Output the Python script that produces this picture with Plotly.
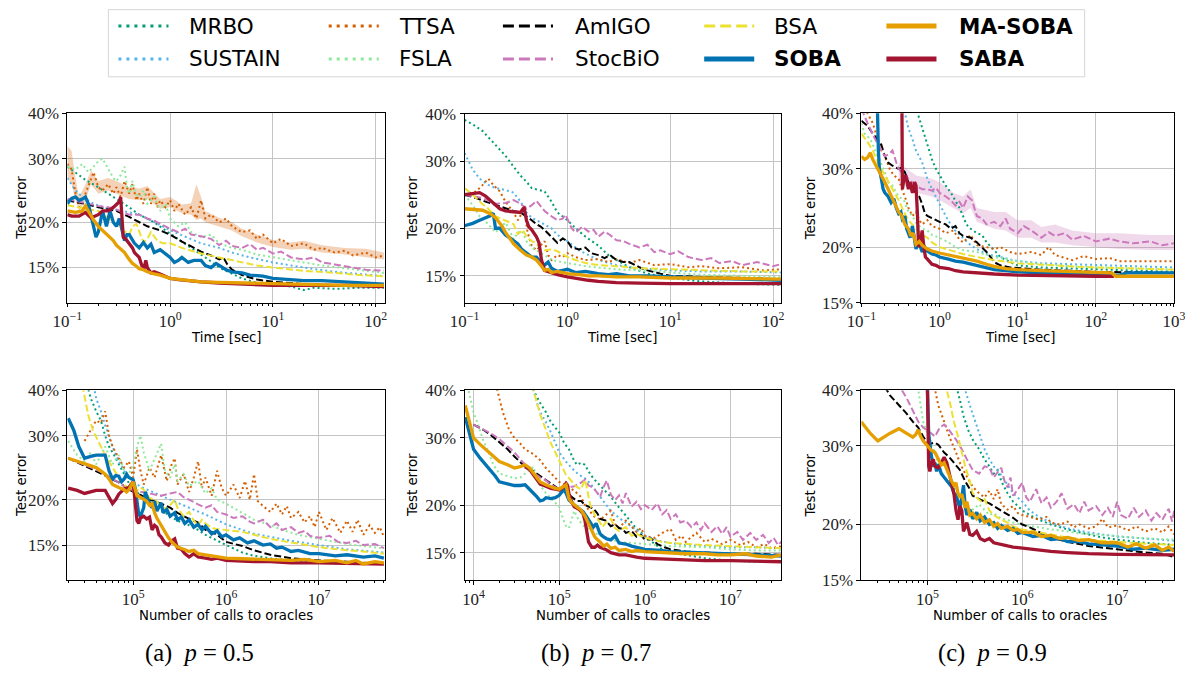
import math
import plotly.graph_objects as go

W, H = 1185, 673

# Placement is written in final-image pixels; the page is shown slightly reduced
# (body margin plus fit-to-window), so positions are mapped back to figure pixels.
FIT = 0.9768
PAD_X = 5.9
BODY = 8

METHODS = ["MRBO", "SUSTAIN", "TTSA", "FSLA", "AmIGO", "StocBiO", "BSA", "SOBA", "SABA", "MA-SOBA"]

# ---------------- p = 0.5, test error vs time [sec] (values in %) ----------------
a_time_mrbo = [[0.1,28.5],[0.12,27.5],[0.15,26.2],[0.2,25],[0.25,24],[0.3,23.2],[0.4,22],[0.5,21],[0.7,20],[0.9,19],[1.2,18],[1.6,17],[2,16.3],[2.5,15.6],[3,15],[4,14.4],[5,14],[7,13.6],[10,13.4],[15,13.3],[20,13.0],[25,13.2],[40,13.1],[70,13.2],[120,13.2]]
a_time_sustain = [[0.1,26.5],[0.12,24.5],[0.14,23.5],[0.18,22.5],[0.25,21.8],[0.35,21.5],[0.5,21],[0.7,20],[0.9,19.3],[1.2,18.6],[1.6,18],[2,17.5],[3,17],[4,16.5],[6,16],[10,15.5],[20,15],[40,14.6],[70,14.4],[120,14.2]]
a_time_ttsa = [[0.1,29],[0.11,28],[0.12,24],[0.13,22],[0.15,24],[0.17,26.5],[0.18,27.5],[0.2,25],[0.22,24.5],[0.25,25.5],[0.28,24],[0.3,25],[0.33,23.5],[0.36,26],[0.4,24],[0.43,25.5],[0.47,23],[0.5,24],[0.55,22.5],[0.6,25],[0.65,22.5],[0.7,24],[0.75,22],[0.8,23],[0.9,22],[1,23],[1.1,21.5],[1.2,22.5],[1.4,21],[1.6,22],[1.8,20.5],[2,23],[2.2,20.5],[2.5,21],[3,20],[3.5,20.5],[4,19.5],[5,18.8],[6,19],[7,18],[8,18.5],[10,17.5],[12,18],[15,17.2],[20,17.5],[25,16.8],[30,17],[40,16.5],[50,16.7],[60,16.2],[80,16.5],[100,16],[120,16.2]]
a_time_ttsa_band = [[0.1,26.5,32.5],[0.11,25.5,31.5],[0.12,23,26.5],[0.13,21.5,23.5],[0.15,23,25.5],[0.17,25.5,27.8],[0.2,24,26],[0.25,24.5,26.5],[0.3,24,26],[0.4,23.2,25],[0.5,23,24.8],[0.6,23.2,25.2],[0.8,21.8,23.2],[1,22,23.5],[1.3,21.2,22.4],[1.6,21,22.6],[1.8,20.3,25.5],[2,20.5,23.5],[2.2,20,21.5],[3,19.5,20.6],[4,19,20],[5,18.3,19.2],[7,17.6,18.5],[10,17.1,17.9],[15,16.8,17.6],[20,16.9,17.8],[30,16.5,17.3],[50,16.3,17],[80,16,16.9],[120,15.8,16.5]]
a_time_fsla = [[0.1,28.5],[0.12,28],[0.14,29],[0.16,27.5],[0.18,28.5],[0.2,29.5],[0.22,30],[0.25,28],[0.28,26.5],[0.3,26],[0.33,27],[0.36,28.5],[0.38,25],[0.4,24],[0.43,26],[0.46,24],[0.5,23.5],[0.55,24.5],[0.6,22.5],[0.7,23.5],[0.8,21.5],[0.9,22.5],[1,20.5],[1.2,19.5],[1.4,20],[1.6,18.8],[2,18.2],[2.5,18.5],[3,17.5],[4,17],[5,16.8],[7,16.3],[10,16],[15,15.7],[20,15.5],[30,15.2],[50,14.9],[80,14.7],[120,14.5]]
a_time_amigo = [[0.1,23],[0.15,22.5],[0.2,22],[0.3,21.5],[0.4,20.7],[0.5,20],[0.6,19.5],[0.8,19],[1,18.5],[1.3,17.7],[1.6,17.2],[2,16.6],[2.5,16.2],[3,15.8],[3.3,16],[3.6,15.3],[4,14.8],[5,14.3],[7,13.9],[10,13.7],[20,13.5],[50,13.4],[120,13.3]]
a_time_stocbio = [[0.1,23.2],[0.13,22.8],[0.16,22.5],[0.2,22.2],[0.25,22],[0.3,21.7],[0.35,21.3],[0.4,21],[0.5,21],[0.6,20.5],[0.7,20.2],[0.8,19.8],[1,19.2],[1.2,18.8],[1.4,19.2],[1.6,18.5],[2,18.3],[2.5,18],[3,17.3],[3.5,17.8],[4,17.2],[5,17],[6,17.4],[7,16.8],[8,17],[10,16.4],[12,16.6],[15,16],[20,15.8],[25,16],[30,15.5],[40,15.3],[60,15],[80,14.8],[120,14.7]]
a_time_bsa = [[0.1,22.3],[0.13,22],[0.16,21.8],[0.2,21.5],[0.25,20.5],[0.3,19.8],[0.35,19],[0.4,18.5],[0.43,19.5],[0.47,19.8],[0.55,17.6],[0.6,18],[0.65,18.8],[0.75,17.8],[0.85,17.5],[1,17.5],[1.3,17],[1.6,16.7],[2,16.4],[3,16],[4,15.7],[5,15.5],[7,15.2],[10,15],[20,14.7],[40,14.5],[70,14.3],[120,14.2]]
a_time_soba = [[0.1,22.5],[0.11,23.3],[0.12,23.5],[0.13,23],[0.14,23.2],[0.15,23.5],[0.16,22.5],[0.17,21],[0.18,19.5],[0.19,18.2],[0.2,18.8],[0.21,20],[0.22,21.5],[0.23,20.5],[0.24,19.5],[0.25,20.5],[0.26,21.5],[0.28,20],[0.3,19.5],[0.32,20.5],[0.34,19],[0.36,17.8],[0.38,18.5],[0.4,18.5],[0.45,17.5],[0.5,17],[0.55,17.6],[0.6,17],[0.65,17.4],[0.7,16.5],[0.8,16.8],[0.9,16.4],[1,16],[1.1,15.5],[1.2,15.7],[1.3,16],[1.5,15.5],[1.7,15.7],[2,15.7],[2.2,15.2],[2.5,15],[2.8,15.4],[3,15.2],[3.5,14.8],[4,14.6],[5,14.5],[6,14.3],[8,14.2],[10,14],[15,13.9],[20,13.8],[30,13.8],[50,13.7],[80,13.6],[120,13.5]]
a_time_saba = [[0.1,21],[0.11,20.8],[0.13,20.8],[0.15,21.3],[0.17,20.6],[0.2,21],[0.22,21.5],[0.25,21.5],[0.28,22],[0.3,22.4],[0.32,22.8],[0.33,23.5],[0.34,21],[0.35,18.2],[0.37,18],[0.4,17.5],[0.43,17],[0.45,16.5],[0.5,16],[0.53,15.2],[0.56,15],[0.58,15.7],[0.6,15],[0.65,14.5],[0.7,14.6],[0.8,14.4],[0.9,14.2],[1,14],[1.2,13.9],[1.5,13.8],[2,13.7],[3,13.6],[5,13.5],[10,13.4],[20,13.4],[50,13.4],[120,13.3]]
a_time_masoba = [[0.1,21.5],[0.12,21.3],[0.14,21.5],[0.15,22.2],[0.16,21.5],[0.18,20.3],[0.2,19.5],[0.22,19],[0.25,18.3],[0.28,17.8],[0.3,17.3],[0.33,16.9],[0.36,16.5],[0.4,15.8],[0.43,15.4],[0.46,15.2],[0.5,14.9],[0.55,14.8],[0.6,14.6],[0.7,14.4],[0.8,14.3],[1,14],[1.3,13.9],[1.7,13.8],[2,13.7],[3,13.65],[5,13.6],[10,13.5],[20,13.5],[50,13.4],[120,13.4]]

# ---------------- p = 0.7, test error vs time [sec] ----------------
b_time_mrbo = [[0.1,38.5],[0.12,37.5],[0.15,36],[0.2,33],[0.25,31],[0.3,29],[0.35,27.5],[0.4,26.5],[0.45,25.5],[0.5,25.3],[0.6,25],[0.7,23.5],[0.8,22],[1,21],[1.2,20],[1.5,19],[2,18],[2.5,17],[3,16.5],[4,15.8],[6,15.2],[10,14.8],[20,14.5],[50,14.3],[120,14.2]]
b_time_sustain = [[0.1,31.5],[0.11,30],[0.12,28.5],[0.14,27],[0.17,26],[0.2,25.5],[0.25,25.2],[0.3,24.8],[0.35,23.5],[0.4,22],[0.45,21.3],[0.5,21],[0.6,20.5],[0.7,20],[0.8,19.2],[1,18.5],[1.3,17.5],[1.6,17],[2,16.5],[3,16],[5,15.7],[10,15.5],[20,15.4],[50,15.4],[120,15.3]]
b_time_ttsa = [[0.1,24.5],[0.13,25],[0.15,26],[0.17,27],[0.19,26],[0.22,25],[0.25,23.5],[0.3,22],[0.33,21],[0.36,22],[0.38,22.5],[0.41,19.5],[0.45,18],[0.5,17.5],[0.55,18],[0.6,18.5],[0.65,17],[0.7,16.5],[0.8,17],[0.9,16.8],[1,17.2],[1.2,16.8],[1.5,16.5],[2,16.6],[2.5,16.3],[3,16.6],[4,16.2],[5,16.5],[7,16],[10,16.1],[15,15.8],[20,15.9],[30,15.7],[50,15.8],[80,15.5],[120,15.6]]
b_time_fsla = [[0.1,24.5],[0.12,23],[0.14,21.5],[0.17,20.5],[0.2,19.5],[0.22,20],[0.25,20.7],[0.28,19.5],[0.3,18.7],[0.33,19.5],[0.36,19.7],[0.4,18.5],[0.45,17.8],[0.5,17.5],[0.6,17],[0.7,16.5],[0.85,16.3],[1,16.2],[1.5,15.9],[2,15.8],[3,15.6],[5,15.5],[10,15.3],[20,15.1],[50,15],[120,14.9]]
b_time_amigo = [[0.1,24.5],[0.13,24],[0.16,23.5],[0.2,23],[0.25,22.5],[0.3,22.2],[0.35,22],[0.4,21.5],[0.45,21],[0.5,20.5],[0.55,20.2],[0.6,19.8],[0.7,19],[0.8,18.3],[0.9,18.8],[1,18.5],[1.1,17.8],[1.3,17.6],[1.5,17.8],[1.7,17.2],[2,17],[2.3,16.7],[2.6,17],[3,16.5],[3.5,16.3],[4,16.3],[5,15.8],[6,15.5],[8,15.2],[10,15],[20,14.9],[50,14.8],[120,14.7]]
b_time_stocbio = [[0.1,24.5],[0.15,24],[0.2,23.2],[0.25,23.3],[0.3,23.7],[0.35,23.2],[0.4,22.5],[0.45,23],[0.5,23.6],[0.55,22.8],[0.6,22.2],[0.7,21.5],[0.8,21],[0.9,21.2],[0.95,21.7],[1,21.2],[1.1,20],[1.2,19.5],[1.4,20.2],[1.6,19.6],[1.8,19.8],[2,19],[2.3,19.6],[2.6,19.2],[3,18.6],[3.5,18.5],[4,18.2],[5,17.8],[6,18.1],[7,17.3],[8,17.5],[10,17.1],[12,17.4],[15,16.8],[20,16.5],[25,16.7],[30,16.2],[40,16.4],[50,16],[70,16.3],[100,15.9],[120,16.1]]
b_time_bsa = [[0.1,25.5],[0.12,24.5],[0.14,23.5],[0.17,22.5],[0.2,21.5],[0.25,21],[0.3,20.5],[0.33,19.3],[0.37,19.8],[0.4,19],[0.45,18.5],[0.5,18.3],[0.55,17.6],[0.6,17.5],[0.7,17.6],[0.8,17.4],[1,16.8],[1.2,16.5],[1.5,16.2],[2,16],[3,15.9],[5,15.7],[10,15.6],[20,15.5],[50,15.4],[120,15.4]]
b_time_soba = [[0.1,20.3],[0.12,20.6],[0.14,21],[0.16,21.3],[0.18,21.6],[0.19,21.9],[0.2,20],[0.22,20],[0.25,19.2],[0.28,18.8],[0.3,18.5],[0.33,18.2],[0.36,17.6],[0.4,17.2],[0.45,16.8],[0.5,16.8],[0.55,16.3],[0.6,16],[0.65,16.3],[0.7,15.7],[0.8,15.4],[0.9,15.5],[1,15.6],[1.2,15.3],[1.5,15.4],[2,15.2],[2.5,15.1],[3,15.2],[4,15],[6,15],[10,14.9],[20,14.8],[50,14.7],[120,14.6]]
b_time_saba = [[0.1,24.5],[0.12,24.6],[0.14,24.8],[0.16,24.3],[0.18,23.6],[0.2,23],[0.22,22.5],[0.25,22.2],[0.3,22.1],[0.35,22],[0.37,22.5],[0.38,22.6],[0.4,21],[0.42,20.2],[0.45,19.8],[0.5,19],[0.53,18.3],[0.56,16.5],[0.6,15.5],[0.7,15.3],[0.8,15.1],[1,14.9],[1.3,14.7],[1.6,14.6],[2,14.5],[3,14.4],[5,14.35],[10,14.3],[30,14.3],[120,14.3]]
b_time_masoba = [[0.1,22.5],[0.12,22.4],[0.15,22.3],[0.18,21.8],[0.2,21.3],[0.23,20.3],[0.25,19.5],[0.28,18.7],[0.3,18.2],[0.35,17.5],[0.4,17],[0.45,16.8],[0.5,16.5],[0.55,16],[0.6,15.5],[0.65,15.6],[0.7,15.3],[0.8,15.4],[1,15.2],[1.3,15.1],[1.6,15],[2,15],[3,14.9],[5,14.9],[10,14.8],[30,14.8],[70,14.7],[120,14.7]]

# ---------------- p = 0.9, test error vs time [sec] ----------------
c_time_mrbo = [[0.45,46],[0.5,41],[0.55,39],[0.6,37],[0.7,34],[0.8,31.5],[0.9,30],[1,29],[1.2,27.5],[1.4,26.5],[1.6,25.5],[1.8,24.5],[2,23.5],[2.2,22.5],[2.5,22],[3,21.5],[3.5,21.3],[4,20.5],[5,19.7],[6,19],[8,18.5],[10,18.2],[20,18],[50,17.9],[100,17.8],[300,17.7],[1000,17.6]]
c_time_sustain = [[0.3,46],[0.35,41],[0.4,37],[0.45,35],[0.5,33],[0.6,31],[0.7,28.5],[0.8,27],[1,25],[1.2,23.5],[1.5,22],[2,21],[2.5,20.2],[3,19.8],[4,19.3],[6,19],[10,18.6],[20,18.4],[50,18.3],[100,18.2],[300,18.1],[1000,18]]
c_time_ttsa = [[0.1,42],[0.12,40],[0.14,38],[0.16,35],[0.18,33],[0.2,32],[0.23,30],[0.26,29],[0.3,28.5],[0.33,27],[0.36,26],[0.4,24.5],[0.45,23.5],[0.5,24],[0.55,23],[0.6,22.5],[0.7,23],[0.8,22.3],[1,22],[1.2,21.5],[1.5,21.8],[1.8,20.8],[2,20.5],[2.5,21.3],[3,20.2],[4,20],[5,19.8],[6,20],[8,19.5],[10,19.3],[15,19.5],[20,19.2],[25,20],[30,19.2],[40,18.9],[50,18.7],[70,19.1],[100,18.8],[150,18.9],[200,18.6],[300,18.6],[500,18.6],[1000,18.6]]
c_time_fsla = [[0.1,38],[0.11,36],[0.13,35],[0.15,33],[0.17,31.5],[0.2,29.5],[0.22,28],[0.25,27.5],[0.3,26],[0.35,25.5],[0.4,24],[0.45,23.5],[0.5,22.7],[0.6,22],[0.7,21.8],[0.8,21.3],[1,21],[1.3,20.5],[1.6,20],[2,19.7],[3,19.5],[5,19],[10,18.6],[20,18.3],[50,18.1],[100,18],[300,17.9],[1000,17.8]]
c_time_amigo = [[0.1,38.5],[0.12,37.5],[0.14,36],[0.16,35],[0.18,34],[0.2,32],[0.22,31],[0.25,30.5],[0.3,30],[0.33,30.2],[0.36,29.5],[0.4,28],[0.45,27],[0.5,26.5],[0.55,26],[0.6,25],[0.65,23.8],[0.7,23.5],[0.8,23.2],[0.9,23],[1,22.8],[1.2,22.5],[1.4,22],[1.6,22.3],[1.8,21.5],[2,21.2],[2.5,21],[3,20.5],[3.5,20],[4,19.5],[4.5,19],[5,18.5],[6,18.2],[8,18],[20,17.8],[100,17.6],[1000,17.5]]
c_time_stocbio = [[0.1,41],[0.12,38],[0.15,35],[0.18,33],[0.2,32],[0.23,32.5],[0.25,33],[0.28,31],[0.3,30],[0.35,29],[0.4,28.5],[0.5,27.5],[0.6,27],[0.7,27],[0.8,26.8],[0.9,27.2],[1,26.5],[1.2,26],[1.4,25.5],[1.6,24.8],[1.8,25.3],[2,24.5],[2.3,26],[2.6,25.5],[3,23.5],[3.5,23.2],[4,22.5],[5,22.8],[6,22.3],[7,23.2],[8,22],[10,21.5],[12,22.3],[15,21.8],[20,21],[25,21.6],[30,21.2],[40,21.5],[50,20.8],[70,21.2],[100,20.6],[150,20.9],[200,20.6],[300,20.4],[500,20.6],[700,20.2],[1000,20.4]]
c_time_stocbio_band = [[0.3,28,31],[0.5,26.5,29],[0.8,26,28.5],[1,25.5,28],[1.5,24.5,26.5],[2,23.8,26],[2.5,24.5,27],[3,22.8,24.5],[5,22,24],[7,21.8,24],[10,21,23],[15,21,23],[20,20.5,22.2],[30,20.5,22.5],[50,20.2,21.8],[100,20,21.5],[200,19.8,21.5],[500,19.7,21.3],[1000,19.7,21.3]]
c_time_bsa = [[0.1,36],[0.12,34.5],[0.14,33],[0.17,30.5],[0.2,29],[0.25,27],[0.3,25.5],[0.35,24],[0.4,23],[0.5,22],[0.6,21.3],[0.7,21],[0.8,20.5],[1,20],[1.5,19.6],[2,19.3],[3,19],[5,18.7],[10,18.4],[20,18.3],[50,18.1],[100,18],[300,17.9],[1000,17.8]]
c_time_soba = [[0.15,46],[0.16,42],[0.165,33],[0.17,30],[0.18,28.5],[0.19,27],[0.2,26.5],[0.22,26],[0.24,25.2],[0.26,25.7],[0.28,24.5],[0.3,23.8],[0.32,24],[0.34,22.8],[0.36,23.5],[0.38,22],[0.4,21.5],[0.42,21],[0.45,22.3],[0.48,20.5],[0.5,19.8],[0.53,20.6],[0.56,20.2],[0.6,19.5],[0.65,20],[0.7,19.6],[0.8,19.3],[0.9,19.2],[1,19],[1.3,18.8],[1.6,18.6],[2,18.5],[3,18.2],[4,18],[5,17.8],[7,17.7],[10,17.6],[20,17.5],[50,17.4],[100,17.3],[200,17.3],[250,17.5],[500,17.5],[1000,17.5]]
c_time_saba = [[0.32,46],[0.33,42],[0.335,27],[0.35,28.5],[0.37,29],[0.4,27],[0.42,28],[0.45,26.5],[0.48,28],[0.5,27.5],[0.52,24],[0.54,20],[0.57,20.5],[0.6,21.8],[0.63,20],[0.66,19],[0.7,18.8],[0.75,18.5],[0.8,18.3],[0.9,18.2],[1,18],[1.3,17.9],[1.6,17.7],[2,17.6],[3,17.5],[5,17.4],[10,17.3],[20,17.25],[50,17.2],[100,17.2],[170,17.2]]
c_time_masoba = [[0.1,32],[0.11,31.5],[0.12,31.8],[0.13,32.6],[0.14,31.5],[0.16,30],[0.18,29],[0.2,28],[0.23,26.5],[0.26,25.2],[0.3,24],[0.33,23.5],[0.36,22.5],[0.4,22],[0.43,21.2],[0.46,21.5],[0.5,20.3],[0.55,20.6],[0.6,20.2],[0.7,19.8],[0.8,19.6],[1,19.4],[1.3,19.2],[1.6,19],[2,18.9],[3,18.6],[4,18.3],[5,18.1],[7,17.9],[10,17.8],[20,17.7],[50,17.6],[100,17.5],[160,17.5],[180,17.2],[300,17.2],[1000,17.2]]

# ---------------- p = 0.5, test error vs number of oracle calls ----------------
a_calls_mrbo = [[3e4,44],[3.5e4,38],[4e4,35],[4.5e4,33],[5e4,30],[5.5e4,28],[6e4,27],[7e4,25],[8e4,23.5],[9e4,22.2],[1e5,21.5],[1.2e5,20.5],[1.5e5,19.7],[2e5,18.8],[2.5e5,18],[3e5,17.5],[4e5,17],[5e5,16.5],[6e5,16],[8e5,15.4],[1e6,15],[1.5e6,14.3],[2e6,14],[3e6,13.8],[5e6,13.6],[1e7,13.4],[2e7,13.3],[5e7,13.3]]
a_calls_sustain = [[3.5e4,45],[4e4,38],[4.5e4,35],[5e4,32],[6e4,28],[7e4,25.5],[8e4,24],[9e4,23],[1e5,22.3],[1.3e5,21.5],[1.6e5,21],[2e5,20.5],[3e5,19.6],[4e5,19],[6e5,18.2],[8e5,17.6],[1e6,17.1],[1.5e6,16.5],[2e6,16.1],[3e6,15.8],[5e6,15.4],[1e7,15],[2e7,14.6],[5e7,14.3]]
a_calls_ttsa = [[3e4,29],[3.5e4,31],[4e4,33],[4.5e4,32.5],[5e4,35],[5.5e4,30],[6e4,28],[7e4,26],[8e4,24.5],[9e4,25.5],[1e5,23],[1.1e5,27.5],[1.2e5,24],[1.3e5,22],[1.5e5,24.5],[1.7e5,23],[2e5,26.5],[2.3e5,22.5],[2.6e5,25],[2.8e5,26],[3e5,22],[3.5e5,23.5],[4e5,21],[4.5e5,23],[5e5,25.5],[5.5e5,21.5],[6e5,23],[7e5,20.5],[8e5,24],[9e5,21.5],[1e6,20.5],[1.2e6,22],[1.4e6,20.2],[1.6e6,22.5],[1.8e6,20],[2e6,23.5],[2.2e6,19.8],[2.5e6,19.2],[3e6,18.5],[3.5e6,19.5],[4e6,18.2],[4.5e6,19.2],[5e6,17.8],[6e6,18.5],[7e6,17.3],[8e6,18],[9e6,16.8],[1e7,18.5],[1.2e7,16.5],[1.4e7,17.8],[1.7e7,16.2],[2e7,17.5],[2.3e7,16.3],[2.6e7,17.6],[3e7,16],[3.5e7,17],[4e7,16.2],[4.5e7,16.8],[5e7,15.8]]
a_calls_fsla = [[2e4,29],[2.5e4,26.5],[3e4,25.5],[3.5e4,27],[4e4,25],[5e4,28],[6e4,25],[7e4,26.5],[8e4,24],[9e4,23.5],[1e5,25],[1.1e5,28],[1.2e5,30],[1.3e5,27],[1.5e5,24],[1.7e5,26],[2e5,28.5],[2.2e5,24],[2.5e5,23],[2.8e5,25],[3e5,22.5],[3.5e5,23.5],[4e5,21.8],[5e5,22.5],[6e5,20.8],[7e5,21.5],[8e5,20],[1e6,19.5],[1.3e6,18.8],[1.6e6,18.2],[2e6,17.6],[3e6,17],[4e6,16.5],[6e6,16],[1e7,15.6],[2e7,15.1],[3e7,14.9],[5e7,14.7]]
a_calls_amigo = [[2e4,26],[3e4,24.8],[4e4,24],[5e4,23.3],[6e4,22.7],[7e4,22.3],[8e4,21.8],[9e4,21.4],[1e5,21],[1.2e5,20.6],[1.5e5,20],[2e5,19.5],[2.5e5,19],[3e5,18.4],[4e5,17.7],[5e5,17.3],[6e5,16.5],[7e5,16.3],[8e5,16],[1e6,15.3],[1.5e6,14.9],[2e6,14.5],[3e6,14.1],[5e6,13.8],[1e7,13.6],[2e7,13.5],[3e7,13.4],[5e7,13.3]]
a_calls_stocbio = [[2e4,26],[3e4,25],[4e4,24.2],[5e4,23.5],[6e4,22.8],[7e4,22.3],[8e4,21.8],[1e5,21.2],[1.2e5,21],[1.5e5,20.8],[2e5,20.5],[2.5e5,20.8],[3e5,21],[3.5e5,20.3],[4e5,20],[5e5,19.4],[6e5,19],[7e5,19.3],[8e5,18.5],[1e6,18.2],[1.2e6,17.8],[1.5e6,18],[1.8e6,17.4],[2e6,17.2],[2.5e6,17.6],[3e6,16.8],[3.5e6,17.2],[4e6,16.5],[5e6,16.8],[6e6,16.2],[7e6,16.4],[8e6,15.9],[1e7,15.7],[1.3e7,15.9],[1.6e7,15.3],[2e7,15.2],[2.5e7,15.4],[3e7,15],[4e7,15.1],[5e7,14.7]]
a_calls_bsa = [[2.7e4,44],[3e4,38],[3.3e4,34],[3.7e4,31],[4.2e4,29],[5e4,26.5],[6e4,24.5],[7e4,23],[8e4,22],[9e4,21.5],[1e5,21],[1.1e5,21.2],[1.2e5,21.6],[1.3e5,21.3],[1.5e5,20.2],[1.7e5,20],[2e5,19.2],[2.3e5,18.8],[2.6e5,19.6],[2.8e5,20],[3e5,19],[3.5e5,18],[4e5,18.5],[4.5e5,17.5],[5e5,17],[5.5e5,17.6],[6e5,17.2],[7e5,16.7],[8e5,16.6],[1e6,16.5],[1.5e6,16.3],[2e6,16],[3e6,15.6],[4e6,15.4],[6e6,15.1],[1e7,14.8],[2e7,14.5],[3e7,14.4],[5e7,14.2]]
a_calls_soba = [[2e4,33.5],[2.3e4,31],[2.6e4,28],[3e4,26],[3.5e4,26.3],[4e4,26.5],[5e4,26.5],[5.5e4,24],[6e4,22.8],[6.5e4,23.3],[7e4,23.2],[7.5e4,22.4],[8e4,22.8],[8.5e4,23.5],[9e4,23],[1e5,22.7],[1.05e5,21.6],[1.1e5,19.5],[1.15e5,18.2],[1.2e5,18],[1.3e5,19],[1.35e5,21],[1.4e5,20.5],[1.5e5,19.5],[1.6e5,19],[1.7e5,19.8],[1.8e5,18.6],[2e5,19.6],[2.1e5,18.4],[2.3e5,18.8],[2.5e5,18],[2.8e5,18.4],[3e5,17.6],[3.3e5,17.9],[3.6e5,17.2],[4e5,17.6],[4.5e5,16.8],[5e5,17.1],[5.5e5,16.5],[6e5,16.9],[7e5,16.1],[8e5,16.4],[9e5,15.8],[1e6,16],[1.2e6,15.5],[1.4e6,15.7],[1.7e6,15.2],[2e6,15.4],[2.5e6,15],[3e6,15.1],[3.5e6,14.7],[4e6,14.8],[5e6,14.4],[6e6,14.5],[8e6,14.2],[1e7,14.2],[1.5e7,14],[2e7,14.1],[3e7,13.9],[4e7,14],[5e7,13.8]]
a_calls_saba = [[2e4,21.5],[2.5e4,21.2],[3e4,20.8],[3.5e4,21],[4e4,21.2],[5e4,21.2],[5.5e4,20.3],[6e4,19.5],[6.5e4,20],[7e4,20.7],[8e4,21.4],[9e4,21.6],[1e5,22.4],[1.05e5,20],[1.1e5,17.5],[1.15e5,17.2],[1.2e5,17.8],[1.3e5,18],[1.4e5,17.7],[1.5e5,17.9],[1.6e5,16.5],[1.7e5,17],[1.8e5,16.8],[1.9e5,16],[2e5,15.8],[2.2e5,15.2],[2.4e5,15],[2.6e5,15.4],[2.8e5,15.6],[3e5,14.7],[3.3e5,14.6],[3.6e5,14.2],[4e5,13.9],[4.5e5,14.2],[5e5,13.9],[6e5,13.8],[7e5,13.7],[8e5,13.8],[1e6,13.6],[1.5e6,13.55],[2e6,13.5],[3e6,13.5],[5e6,13.4],[1e7,13.4],[2e7,13.35],[5e7,13.3]]
a_calls_masoba = [[2e4,26],[2.5e4,25.5],[3e4,25],[3.5e4,24.8],[4e4,24.5],[4.5e4,24],[5e4,23.5],[5.5e4,22.8],[6e4,22],[7e4,21.6],[8e4,21.3],[8.5e4,21],[9e4,21.3],[1e5,22.4],[1.05e5,21.3],[1.1e5,20.5],[1.2e5,20.3],[1.3e5,20],[1.4e5,19.8],[1.5e5,19.3],[1.6e5,19.5],[1.7e5,18.4],[1.8e5,17.8],[2e5,17],[2.2e5,16.3],[2.4e5,15.7],[2.6e5,15.3],[2.8e5,15],[3e5,14.8],[3.5e5,14.6],[4e5,14.4],[4.5e5,14.5],[5e5,14.2],[6e5,14.1],[7e5,14],[8e5,13.9],[1e6,13.8],[1.5e6,13.75],[2e6,13.7],[3e6,13.65],[5e6,13.6],[7e6,13.7],[1e7,13.5],[1.5e7,13.6],[2e7,13.4],[2.5e7,13.6],[3e7,13.3],[4e7,13.5],[5e7,13.4]]

# ---------------- p = 0.7, test error vs number of oracle calls ----------------
b_calls_mrbo = [[4.5e4,44],[5e4,40],[6e4,37],[7e4,35],[8e4,33],[9e4,32],[1e5,31],[1.15e5,29],[1.3e5,28],[1.45e5,26.5],[1.6e5,25.5],[1.8e5,25.8],[2e5,25.5],[2.2e5,24.5],[2.5e5,23.5],[3e5,22.5],[3.5e5,21.7],[4e5,21],[5e5,19.7],[6e5,18.8],[7e5,18],[8e5,17.3],[1e6,16.6],[1.3e6,15.8],[1.6e6,15.3],[2e6,15],[3e6,14.8],[5e6,14.5],[1e7,14.3],[2e7,14.2],[4e7,14.2]]
b_calls_sustain = [[4.5e4,44],[5e4,40],[5.5e4,37],[6e4,35],[7e4,33],[8e4,31],[9e4,29],[1e5,27.5],[1.2e5,26],[1.4e5,25],[1.7e5,24],[2e5,23.5],[2.3e5,22.8],[2.6e5,22],[3e5,21],[3.5e5,20.2],[4e5,19.3],[5e5,18.5],[6e5,18],[7e5,17.5],[8e5,17.2],[1e6,16.6],[1.5e6,16.1],[2e6,15.9],[3e6,15.7],[5e6,15.6],[1e7,15.5],[2e7,15.5],[4e7,15.4]]
b_calls_ttsa = [[1.7e4,44],[1.9e4,40],[2.2e4,35],[2.6e4,31.5],[3e4,30],[3.5e4,29],[4e4,28],[5e4,27.2],[6e4,26.2],[7e4,25],[8e4,24.2],[9e4,23.5],[1e5,23],[1.2e5,22.5],[1.5e5,21.8],[1.8e5,21],[2e5,20],[2.3e5,19.2],[2.6e5,18.6],[3e5,18.3],[3.5e5,18.8],[4e5,19.3],[4.5e5,17.8],[5e5,17.4],[6e5,18.2],[7e5,17.6],[8e5,17],[9e5,17.4],[1e6,16.6],[1.3e6,16.4],[1.6e6,16.9],[2e6,17.3],[2.3e6,16.2],[2.7e6,16.6],[3e6,16],[3.5e6,16.5],[4e6,16.9],[5e6,16],[6e6,16.3],[8e6,15.8],[1e7,16.2],[1.3e7,15.7],[1.6e7,16],[2e7,15.5],[2.5e7,15.8],[3e7,15.4],[4e7,15.6]]
b_calls_fsla = [[8.5e3,41],[9e3,39],[1e4,35],[1.1e4,33],[1.2e4,31],[1.3e4,29.5],[1.5e4,27.5],[1.7e4,25.5],[2e4,24.2],[2.5e4,23.8],[3e4,23.5],[3.5e4,23.6],[4e4,24.2],[4.5e4,24.8],[5e4,25.2],[5.5e4,23.5],[6e4,22.5],[7e4,21.5],[8e4,20.8],[9e4,20.2],[1e5,19.8],[1.1e5,18.5],[1.2e5,17.6],[1.3e5,17.4],[1.4e5,18.3],[1.5e5,19.3],[1.7e5,18.2],[2e5,17.5],[2.5e5,17],[3e5,16.6],[4e5,16.3],[5e5,16],[7e5,15.9],[1e6,15.8],[2e6,15.6],[5e6,15.5],[1e7,15.3],[2e7,15.2],[4e7,15.2]]
b_calls_amigo = [[1e4,32.5],[1.3e4,31.5],[1.6e4,30.5],[2e4,29.2],[2.5e4,28],[3e4,26.8],[4e4,25.2],[5e4,24.5],[6e4,23.8],[7e4,23.2],[8e4,22.7],[9e4,22.3],[1e5,22],[1.2e5,21.6],[1.4e5,21],[1.6e5,20.5],[1.8e5,20.5],[2e5,20],[2.2e5,19.8],[2.5e5,19.6],[2.8e5,19],[3e5,18.4],[3.5e5,18.2],[4e5,17.6],[4.5e5,17.8],[5e5,17.4],[5.5e5,17.3],[6e5,16.9],[7e5,17.1],[8e5,16.5],[9e5,16.7],[1e6,16.2],[1.2e6,16.3],[1.4e6,15.8],[1.7e6,15.5],[2e6,15.3],[3e6,15.1],[5e6,15],[1e7,14.9],[2e7,14.9],[4e7,14.8]]
b_calls_stocbio = [[1e4,32.5],[1.3e4,31.5],[1.6e4,30.8],[2e4,29.8],[2.5e4,28.5],[3e4,27.5],[4e4,25.5],[5e4,24.3],[6e4,23.6],[7e4,23.2],[8e4,22.6],[9e4,22.3],[1e5,22],[1.2e5,22.2],[1.5e5,22.4],[1.8e5,22.9],[2e5,23.3],[2.2e5,22.5],[2.5e5,22.2],[2.8e5,21.5],[3e5,21],[3.3e5,22.3],[3.6e5,23.2],[4e5,21.3],[4.5e5,20.6],[5e5,21.2],[5.5e5,20.2],[6e5,21.5],[6.5e5,20.5],[7e5,19.8],[8e5,20.4],[9e5,19.5],[1e6,20],[1.2e6,19.4],[1.4e6,20.2],[1.6e6,18.9],[1.8e6,19.4],[2e6,18.4],[2.3e6,18.9],[2.6e6,18],[3e6,18.2],[3.5e6,17.5],[4e6,18],[4.5e6,17.2],[5e6,17.9],[6e6,17],[7e6,17.6],[8e6,16.8],[9e6,17.5],[1e7,16.5],[1.2e7,17],[1.4e7,16.2],[1.7e7,16.9],[2e7,16.2],[2.4e7,16.7],[2.8e7,15.9],[3.2e7,16.4],[3.6e7,15.7],[4e7,16.1]]
b_calls_bsa = [[4.8e4,44],[5e4,40],[5.5e4,37],[6e4,34.5],[7e4,31.5],[8e4,29],[9e4,27.5],[1e5,26],[1.1e5,25],[1.2e5,24],[1.4e5,23],[1.6e5,22.3],[1.8e5,22],[2e5,23.3],[2.1e5,22.2],[2.3e5,20],[2.5e5,19.2],[2.7e5,18.5],[3e5,18],[3.2e5,17.5],[3.5e5,18],[4e5,18.4],[4.5e5,17.4],[5e5,17.1],[6e5,17.5],[7e5,16.6],[8e5,16.8],[1e6,16.4],[1.3e6,16.2],[1.6e6,16],[2e6,15.9],[3e6,15.8],[5e6,15.7],[1e7,15.6],[2e7,15.5],[4e7,15.4]]
b_calls_soba = [[8e3,34],[9e3,30.5],[1e4,28],[1.2e4,26.5],[1.5e4,25],[1.8e4,23.8],[2e4,23],[2.5e4,22.7],[3e4,22.5],[3.5e4,22.5],[4e4,22.6],[4.5e4,22],[5e4,21.5],[5.5e4,21],[6e4,20.5],[6.5e4,20.6],[7e4,20.9],[8e4,20.8],[9e4,20.9],[1e5,21.2],[1.1e5,21.8],[1.15e5,22.2],[1.2e5,21.5],[1.3e5,20.6],[1.5e5,20],[1.7e5,19.6],[1.9e5,19.2],[2.1e5,18.6],[2.3e5,18],[2.5e5,17.5],[2.7e5,17.9],[3e5,16.8],[3.3e5,16.5],[3.6e5,16.3],[4e5,16.2],[4.5e5,16.6],[5e5,15.9],[6e5,15.8],[7e5,15.6],[8e5,15.5],[1e6,15.3],[1.5e6,15.2],[2e6,15.1],[3e6,15.05],[5e6,15],[1e7,14.9],[2e7,14.8],[4e7,14.7]]
b_calls_saba = [[4e4,25.2],[4.5e4,24.8],[5e4,24],[5.5e4,23.3],[6e4,22.7],[7e4,22.4],[8e4,22.1],[9e4,22],[1e5,21.9],[1.1e5,22.2],[1.2e5,22.8],[1.25e5,22.5],[1.3e5,21.4],[1.4e5,20.4],[1.5e5,19.8],[1.7e5,19.5],[1.9e5,19],[2e5,18.2],[2.1e5,17],[2.2e5,16],[2.4e5,15.5],[2.6e5,15.5],[2.8e5,15.7],[3e5,15.5],[3.5e5,15.3],[4e5,15],[5e5,14.8],[6e5,14.8],[8e5,14.6],[1e6,14.5],[1.5e6,14.45],[2e6,14.4],[3e6,14.35],[5e6,14.3],[1e7,14.3],[2e7,14.25],[4e7,14.2]]
b_calls_masoba = [[8e3,36.5],[9e3,33],[1e4,30],[1.2e4,28.8],[1.5e4,27.5],[1.8e4,26.5],[2e4,26],[2.5e4,25.5],[3e4,25],[3.5e4,25.2],[4e4,25.5],[4.5e4,25],[5e4,24.3],[5.5e4,23.6],[6e4,23],[7e4,22.6],[8e4,22.3],[9e4,22.1],[1e5,22],[1.1e5,22.3],[1.2e5,22.6],[1.3e5,20.8],[1.4e5,20.3],[1.6e5,19.8],[1.8e5,19.4],[2e5,18.7],[2.2e5,17.8],[2.4e5,17],[2.6e5,16.5],[2.8e5,16.2],[3e5,16],[3.3e5,15.6],[3.6e5,15.8],[4e5,15.4],[4.5e5,15.5],[5e5,15.2],[6e5,15.3],[7e5,15.1],[8e5,15.2],[1e6,15.1],[1.5e6,15],[2e6,15],[3e6,14.9],[5e6,14.9],[7e6,14.8],[1e7,14.8],[1.5e7,14.9],[2e7,14.7],[3e7,14.6],[4e7,14.8]]

# ---------------- p = 0.9, test error vs number of oracle calls ----------------
c_calls_mrbo = [[1.9e5,44],[2e5,41],[2.2e5,38],[2.4e5,35],[2.7e5,32.5],[3e5,31],[3.5e5,29.5],[4e5,28],[4.5e5,27],[5e5,26],[5.5e5,26.5],[6e5,25],[7e5,23.5],[8e5,22.5],[9e5,22],[1e6,21.5],[1.2e6,21],[1.5e6,20.5],[2e6,20],[3e6,19.5],[5e6,19],[7e6,18.7],[1e7,18.5],[2e7,18.2],[4e7,18]]
c_calls_sustain = [[2.3e5,44],[2.5e5,40],[2.8e5,37],[3.2e5,34],[3.6e5,31.5],[4e5,29.5],[4.5e5,28],[5e5,27],[6e5,25.8],[7e5,24.5],[8e5,23.5],[1e6,22.5],[1.2e6,21.5],[1.5e6,20.8],[2e6,20.2],[3e6,19.6],[5e6,19.2],[1e7,18.8],[2e7,18.6],[4e7,18.4]]
c_calls_ttsa = [[1.1e5,44],[1.2e5,40],[1.3e5,37],[1.5e5,34],[1.7e5,31.5],[2e5,29],[2.2e5,27.5],[2.5e5,26],[2.8e5,25],[3e5,24.3],[3.5e5,23.5],[4e5,23],[4.5e5,23.8],[5e5,22.8],[5.5e5,24],[6e5,22.2],[7e5,21.6],[8e5,22],[9e5,21.2],[1e6,21],[1.2e6,20.8],[1.5e6,20.5],[1.8e6,20.8],[2e6,20.2],[2.5e6,20],[3e6,20.3],[3.5e6,19.7],[4e6,20],[5e6,19.6],[6e6,19.8],[7e6,20.6],[8e6,19.7],[1e7,19.9],[1.3e7,19.4],[1.6e7,19.8],[2e7,19.3],[2.5e7,19.6],[3e7,19.2],[3.5e7,19.8],[4e7,19]]
c_calls_fsla = [[7.5e4,44],[8e4,40],[8.5e4,36],[9e4,34],[1e5,32],[1.1e5,30.5],[1.2e5,29],[1.3e5,27.5],[1.5e5,25.5],[1.7e5,24.5],[2e5,24],[2.2e5,23],[2.5e5,22],[2.8e5,21.5],[3e5,21.6],[3.5e5,22.2],[4e5,21.5],[4.5e5,21],[5e5,21.2],[6e5,20.6],[7e5,20.5],[8e5,20.2],[1e6,20],[1.3e6,19.8],[1.6e6,19.6],[2e6,19.5],[3e6,19.3],[4e6,19.1],[6e6,19],[1e7,18.8],[2e7,18.6],[4e7,18.5]]
c_calls_amigo = [[3e4,45],[3.5e4,41],[4e4,39],[5e4,37],[6e4,35.5],[7e4,34],[8e4,33],[9e4,31.5],[1e5,30.5],[1.1e5,30.4],[1.2e5,30.5],[1.3e5,30.2],[1.4e5,29.5],[1.5e5,29],[1.7e5,28.3],[1.9e5,27.5],[2.2e5,26.5],[2.5e5,25],[2.8e5,24],[3e5,23.2],[3.5e5,22.8],[4e5,22.5],[4.5e5,22.3],[5e5,22],[6e5,21.5],[7e5,21],[8e5,20.7],[9e5,20.3],[1e6,20],[1.2e6,19.7],[1.4e6,19.4],[1.7e6,19],[2e6,18.7],[3e6,18.3],[5e6,17.9],[1e7,17.6],[2e7,17.3],[3e7,17.2],[4e7,16.9]]
c_calls_stocbio = [[4.5e4,44],[5e4,41],[6e4,38.5],[7e4,36],[8e4,34],[9e4,33],[1e5,32.5],[1.1e5,32],[1.2e5,31.5],[1.35e5,33],[1.5e5,33.5],[1.7e5,32.5],[2e5,31],[2.3e5,29.5],[2.6e5,28],[3e5,26.5],[3.5e5,26],[4e5,27],[4.5e5,26.8],[5e5,25.5],[5.5e5,26.2],[6e5,26.8],[6.5e5,25],[7e5,24.2],[7.5e5,25.5],[8e5,23.2],[9e5,24],[1e6,24.8],[1.1e6,23],[1.2e6,22.5],[1.4e6,24],[1.6e6,22.3],[1.8e6,23],[2e6,21.8],[2.3e6,22.5],[2.6e6,23.5],[3e6,21.7],[3.5e6,22.2],[4e6,21.2],[4.5e6,22.5],[5e6,21.5],[6e6,22],[7e6,21],[8e6,21.8],[9e6,20.8],[1e7,22.5],[1.1e7,21],[1.3e7,20.6],[1.5e7,21.8],[1.7e7,20.8],[2e7,21.5],[2.3e7,20.4],[2.6e7,21.2],[3e7,20.5],[3.5e7,21.7],[3.8e7,20.3],[4e7,21.5]]
c_calls_bsa = [[1.5e5,44],[1.6e5,40],[1.75e5,37],[1.9e5,34],[2.1e5,31.5],[2.3e5,29],[2.5e5,27],[2.8e5,25],[3e5,23.5],[3.3e5,23],[3.7e5,22.5],[4e5,22.8],[4.5e5,21.5],[5e5,21],[6e5,20.5],[7e5,20.2],[8e5,19.8],[1e6,19.5],[1.5e6,19.2],[2e6,19],[3e6,18.7],[5e6,18.5],[1e7,18.3],[2e7,18.1],[4e7,18]]
c_calls_soba = [[9.5e4,45],[1e5,40],[1.03e5,32],[1.06e5,30],[1.1e5,28.5],[1.15e5,27],[1.2e5,27.5],[1.25e5,26.3],[1.3e5,27.3],[1.4e5,26],[1.5e5,25.5],[1.6e5,25],[1.7e5,24.7],[1.8e5,24.3],[1.9e5,23.5],[2e5,23.3],[2.1e5,22.5],[2.2e5,21.7],[2.3e5,23],[2.4e5,24.5],[2.5e5,22],[2.6e5,21],[2.8e5,21.6],[3e5,20.6],[3.3e5,21.3],[3.6e5,20.4],[4e5,20.8],[4.5e5,20],[5e5,20.2],[5.5e5,19.6],[6e5,19.9],[7e5,19.4],[8e5,19.6],[9e5,19.1],[1e6,19.2],[1.3e6,18.8],[1.6e6,18.9],[2e6,18.5],[2.5e6,18.6],[3e6,18.3],[4e6,18.3],[5e6,18.1],[7e6,18],[1e7,17.9],[1.5e7,17.6],[2e7,17.7],[3e7,17.5],[4e7,17.6]]
c_calls_saba = [[9.5e4,45],[1e5,40],[1.03e5,27],[1.06e5,26.3],[1.1e5,27.5],[1.15e5,28],[1.2e5,27],[1.3e5,26.8],[1.4e5,27.5],[1.5e5,28.3],[1.6e5,27.5],[1.7e5,26],[1.8e5,25],[1.9e5,23.5],[2e5,21.5],[2.1e5,20.5],[2.2e5,22],[2.3e5,21.5],[2.4e5,19.3],[2.5e5,19.8],[2.6e5,20.2],[2.8e5,19],[3e5,18.9],[3.3e5,19.3],[3.6e5,18.6],[4e5,18.4],[4.5e5,18.6],[5e5,18.2],[6e5,18],[7e5,17.9],[8e5,17.8],[1e6,17.7],[1.5e6,17.5],[2e6,17.4],[3e6,17.3],[5e6,17.2],[1e7,17.15],[2e7,17.1],[4e7,17.1]]
c_calls_masoba = [[2e4,34],[2.5e4,32],[3e4,30.8],[3.5e4,31.5],[4e4,32],[5e4,32.8],[6e4,32],[7e4,31.4],[7.5e4,31.8],[8e4,32.6],[8.5e4,31.5],[9e4,30.8],[1e5,30],[1.1e5,29.3],[1.2e5,29],[1.3e5,28],[1.4e5,27.2],[1.5e5,27.5],[1.6e5,26.5],[1.7e5,25.8],[1.8e5,25],[1.9e5,24.5],[2e5,24.8],[2.1e5,23.5],[2.2e5,23],[2.3e5,23.4],[2.4e5,22.6],[2.5e5,21.8],[2.6e5,22.5],[2.8e5,21],[3e5,21.2],[3.3e5,20.6],[3.6e5,21],[4e5,20.2],[4.5e5,20.5],[5e5,19.8],[5.5e5,20.1],[6e5,19.6],[7e5,19.8],[8e5,19.4],[9e5,19.5],[1e6,19.2],[1.3e6,19.2],[1.6e6,18.8],[2e6,18.9],[2.5e6,18.6],[3e6,18.7],[4e6,18.4],[5e6,18.5],[7e6,18.2],[1e7,18.2],[1.3e7,17.8],[1.6e7,18.1],[2e7,17.7],[2.5e7,18],[3e7,17.5],[3.5e7,17.8],[4e7,17.4]]

# Y tick values (test error, %)
Y_TICKS = [15, 20, 30, 40]

# Line style per method
STYLE = {
    "MRBO":    dict(color="#029e73", width=2,   dash="2px,3px"),
    "SUSTAIN": dict(color="#56b4e9", width=2,   dash="2px,3px"),
    "TTSA":    dict(color="#d55e00", width=2,   dash="2px,3px"),
    "FSLA":    dict(color="#8ee89a", width=2,   dash="2px,3px"),
    "AmIGO":   dict(color="#000000", width=2,   dash="7px,3px"),
    "StocBiO": dict(color="#cc78bc", width=2,   dash="7px,3px"),
    "BSA":     dict(color="#ece133", width=2,   dash="7px,3px"),
    "SOBA":    dict(color="#0173b2", width=3.3, dash="solid"),
    "SABA":    dict(color="#a2142f", width=3.3, dash="solid"),
    "MA-SOBA": dict(color="#e69f00", width=3.3, dash="solid"),
}

def group(prefix):
    g = globals()
    keys = {"MRBO": "mrbo", "SUSTAIN": "sustain", "TTSA": "ttsa", "FSLA": "fsla",
            "AmIGO": "amigo", "StocBiO": "stocbio", "BSA": "bsa", "SOBA": "soba",
            "SABA": "saba", "MA-SOBA": "masoba"}
    return {m: g[prefix + "_" + keys[m]] for m in METHODS}

def sup(e):
    return "10<sup>" + ("\u2212" + str(-e) if e < 0 else str(e)) + "</sup>"

# Panel boxes in image pixels: left, right, top, bottom
PANELS = [
    dict(data=group("a_time"),  px=(66, 383, 112.7, 303), xr=(-1, 2.088), yr=(12, 40),
         xt=[-1, 0, 1, 2], band=("TTSA", a_time_ttsa_band, "rgba(213,94,0,0.28)")),
    dict(data=group("b_time"),  px=(462.7, 779, 113, 303), xr=(-1, 2.08), yr=(12.75, 40),
         xt=[-1, 0, 1, 2], band=None),
    dict(data=group("c_time"),  px=(859, 1176, 112.7, 303), xr=(-1, 3), yr=(15, 40),
         xt=[-1, 0, 1, 2, 3], band=("StocBiO", c_time_stocbio_band, "rgba(204,120,188,0.28)")),
    dict(data=group("a_calls"), px=(66, 383, 391, 582), xr=(4.292, 7.708), yr=(12, 40),
         xt=[5, 6, 7], band=None),
    dict(data=group("b_calls"), px=(462.7, 779, 391, 582), xr=(3.895, 7.593), yr=(12.7, 40),
         xt=[4, 5, 6, 7], band=None),
    dict(data=group("c_calls"), px=(859, 1176, 391, 582), xr=(4.303, 7.6), yr=(15, 40),
         xt=[5, 6, 7], band=None),
]

def px2x(p):
    return ((p - PAD_X) / FIT - BODY) / W

def px2y(p):
    return 1 - (p / FIT - BODY) / H

def fs(v):
    return round(v / FIT, 1)

fig = go.Figure()
layout = dict(width=W, height=H, margin=dict(l=0, r=0, t=0, b=0),
              paper_bgcolor="white", plot_bgcolor="white", showlegend=False)

TICKFONT = dict(family="Liberation Serif, DejaVu Serif, serif", size=fs(16.5), color="#222")
GRID = "#c4c4c4"

for i, p in enumerate(PANELS):
    n = "" if i == 0 else str(i + 1)
    xa, ya = "x" + n, "y" + n
    l, r, t, b = p["px"]
    lo, hi = p["xr"]
    minor_vals = [m * 10 ** e for e in range(math.floor(lo), math.ceil(hi) + 1)
                  for m in range(2, 10) if lo <= math.log10(m * 10 ** e) <= hi]
    layout["xaxis" + n] = dict(
        type="log", range=[lo, hi], domain=[max(0.0, px2x(l)), min(1.0, px2x(r))], anchor=ya,
        showline=True, linecolor="black", linewidth=1, mirror=True,
        ticks="outside", ticklen=3.5, tickcolor="black", tickwidth=1,
        tickvals=[10 ** e for e in p["xt"]], ticktext=[sup(e) for e in p["xt"]],
        ticklabeloverflow="allow",
        tickfont=TICKFONT, showgrid=True, gridcolor=GRID, gridwidth=1, zeroline=False,
        minor=dict(ticks="outside", ticklen=2, tickcolor="black", tickvals=minor_vals, showgrid=False),
    )
    layout["yaxis" + n] = dict(
        type="log", range=[math.log10(p["yr"][0]), math.log10(p["yr"][1])],
        domain=[max(0.0, px2y(b)), min(1.0, px2y(t))], anchor=xa,
        showline=True, linecolor="black", linewidth=1, mirror=True,
        ticks="outside", ticklen=4, tickcolor="black", tickwidth=1,
        tickvals=Y_TICKS, ticktext=[f"{v}%" for v in Y_TICKS],
        tickfont=TICKFONT, showgrid=True, gridcolor=GRID, gridwidth=1, zeroline=False,
    )
    if p["band"]:
        name, band, fc = p["band"]
        bx = [row[0] for row in band]
        fig.add_trace(go.Scatter(x=bx, y=[row[1] for row in band], mode="lines",
                                 line=dict(width=0), xaxis=xa, yaxis=ya, hoverinfo="skip",
                                 name=name))
        fig.add_trace(go.Scatter(x=bx, y=[row[2] for row in band], mode="lines",
                                 line=dict(width=0), fill="tonexty", fillcolor=fc,
                                 xaxis=xa, yaxis=ya, hoverinfo="skip", name=name))
    for m in METHODS:
        pts = p["data"][m]
        fig.add_trace(go.Scatter(
            x=[q[0] for q in pts], y=[q[1] for q in pts], mode="lines", name=m,
            line=dict(**STYLE[m]), xaxis=xa, yaxis=ya,
        ))

fig.update_layout(**layout)

ann = []
shapes = []
SANS = "DejaVu Sans, sans-serif"

# Axis titles
for i, p in enumerate(PANELS):
    l, r, t, b = p["px"]
    ylab_x = [19.5, 410, 808][i % 3]
    ann.append(dict(text="Test error", x=px2x(ylab_x), y=px2y((t + b) / 2), xref="paper", yref="paper",
                    textangle=-90, showarrow=False, font=dict(family=SANS, size=fs(13), color="black"),
                    xanchor="center", yanchor="middle"))
    xlab = "Time [sec]" if i < 3 else "Number of calls to oracles"
    ann.append(dict(text=xlab, x=px2x((l + r) / 2), y=px2y(338 if i < 3 else 617), xref="paper",
                    yref="paper", showarrow=False, font=dict(family=SANS, size=fs(13), color="black"),
                    xanchor="center", yanchor="middle", borderpad=0))

# Sub-figure captions
for cx, lab, pv in [(198, "(a)", "0.5"), (594, "(b)", "0.7"), (990, "(c)", "0.9")]:
    ann.append(dict(text=f"{lab}\u2002<i>p</i> = {pv}", x=px2x(cx), y=px2y(655),
                    xref="paper", yref="paper", showarrow=False,
                    font=dict(family="Liberation Serif, serif", size=fs(24), color="black"),
                    xanchor="center", yanchor="middle"))

# Legend frame
shapes.append(dict(type="rect", xref="paper", yref="paper", x0=px2x(107), x1=px2x(1082),
                   y0=px2y(76), y1=min(0.999, px2y(7)), line=dict(color="#d6d6d6", width=1),
                   fillcolor="white", layer="above"))

LEG_ROWS = [["MRBO", "TTSA", "AmIGO", "BSA", "MA-SOBA"],
            ["SUSTAIN", "FSLA", "StocBiO", "SOBA", "SABA"]]
HANDLE_X = [117, 327, 501, 702, 884]
TEXT_X = [185, 395, 571, 770, 955]
ROW_Y = [25, 58]
BOLD = {"SOBA", "SABA", "MA-SOBA"}
for ri, row in enumerate(LEG_ROWS):
    for ci, m in enumerate(row):
        st = STYLE[m]
        if st["dash"] == "solid":
            lw, dash = 5, "solid"
        elif st["dash"].startswith("2px"):
            lw, dash = 3, "3px,5px"
        else:
            lw, dash = 3, "11px,5px"
        shapes.append(dict(type="line", xref="paper", yref="paper",
                           x0=px2x(HANDLE_X[ci]), x1=px2x(HANDLE_X[ci] + 50),
                           y0=px2y(ROW_Y[ri]), y1=px2y(ROW_Y[ri]),
                           line=dict(color=st["color"], width=lw, dash=dash), layer="above"))
        txt = f"<b>{m}</b>" if m in BOLD else m
        ann.append(dict(text=txt, x=px2x(TEXT_X[ci]), y=px2y(ROW_Y[ri]), xref="paper", yref="paper",
                        showarrow=False, xanchor="left", yanchor="middle",
                        font=dict(family=SANS, size=fs(21), color="black")))

fig.update_layout(annotations=ann, shapes=shapes)
fig.write_html("out.html")
